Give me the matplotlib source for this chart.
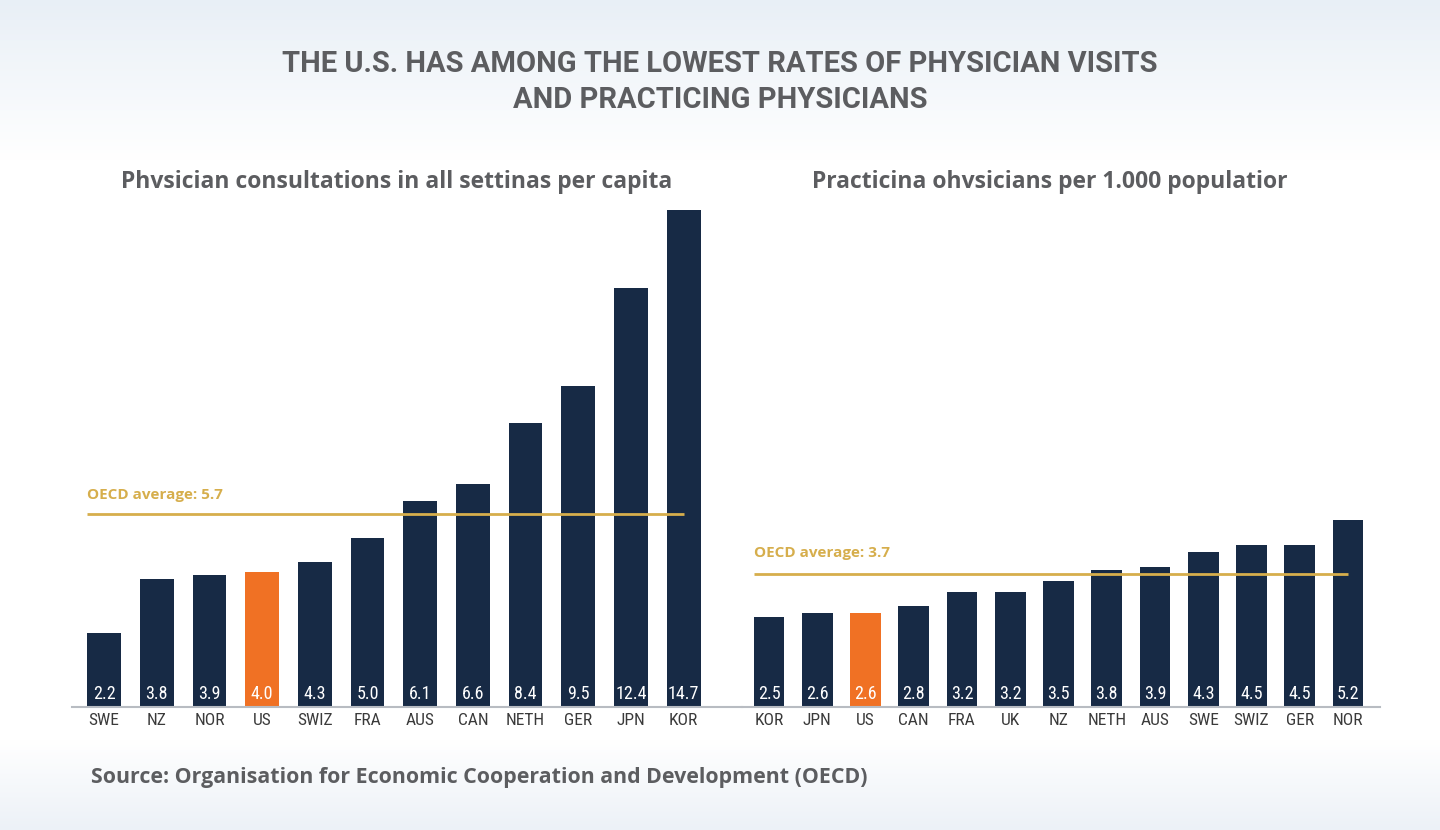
import matplotlib
matplotlib.use("Agg")
import matplotlib.pyplot as plt
import numpy as np

NAVY = "#172a45"; ORANGE = "#f07124"; GOLD = "#d6ae4c"; GREY = "#5c5d60"; TICK = "#3a3a3a"

# data
left_cats = ["SWE", "NZ", "NOR", "US", "SWIZ", "FRA", "AUS", "CAN", "NETH", "GER", "JPN", "KOR"]
left_vals = [2.2, 3.8, 3.9, 4.0, 4.3, 5.0, 6.1, 6.6, 8.4, 9.5, 12.4, 14.7]
left_avg = 5.7
right_cats = ["KOR", "JPN", "US", "CAN", "FRA", "UK", "NZ", "NETH", "AUS", "SWE", "SWIZ", "GER", "NOR"]
right_vals = [2.5, 2.6, 2.6, 2.8, 3.2, 3.2, 3.5, 3.8, 3.9, 4.3, 4.5, 4.5, 5.2]
right_avg = 3.7

W, H = 1440, 830
fig = plt.figure(figsize=(W/100, H/100), dpi=100)

# background gradient
bg = fig.add_axes([0, 0, 1, 1]); bg.axis("off")
col = np.ones((H, 3))
top = np.array([232, 239, 246]) / 255
bot = np.array([236, 241, 247]) / 255
for i in range(H):
    if i < 160:
        t = i / 160
        col[i] = top * (1 - t) + t
    elif i > 740:
        t = (i - 740) / 90
        col[i] = (1 - t) + bot * t
img = np.repeat(col[:, None, :], 4, axis=1)
bg.imshow(img, aspect="auto", extent=[0, 1, 0, 1])
bg.set_xlim(0, 1); bg.set_ylim(0, 1)

COND = ["Liberation Sans Narrow", "Roboto Condensed", "DejaVu Sans"]
HEAD = "Open Sans"

def px(x0, x1, y0, y1):
    return [x0/W, 1 - y1/H, (x1 - x0)/W, (y1 - y0)/H]

def panel(rect, cats, vals, avg, xl, ppu, lab_y):
    ax = fig.add_axes(rect)
    ax.set_facecolor("none")
    x = np.arange(len(cats))
    bw = 0.64
    colors = [ORANGE if c == "US" else NAVY for c in cats]
    ax.bar(x, vals, width=bw, color=colors, zorder=2)
    ax.set_xlim(*xl)
    ax.set_ylim(0, 507 / ppu)
    for s in ("top", "left", "right"):
        ax.spines[s].set_visible(False)
    ax.spines["bottom"].set_color("#b8bcc2"); ax.spines["bottom"].set_linewidth(1.5)
    ax.set_yticks([])
    ax.set_xticks(x)
    ax.set_xticklabels(cats, family=COND, fontsize=12.5, color=TICK)
    ax.tick_params(axis="x", length=0, pad=4)
    for xi, v in zip(x, vals):
        ax.text(xi, 0.12, f"{v:.1f}", ha="center", va="bottom", color="white",
                fontsize=13, family=COND, zorder=3)
    ax.hlines(avg, -bw/2, len(cats) - 1, color=GOLD, lw=2, zorder=4)
    ax.text(-bw/2, avg + lab_y / ppu, f"OECD average: {avg}", color=GOLD, fontsize=11,
            fontweight="bold", family=HEAD, ha="left", va="bottom")
    return ax

panel(px(72, 742, 200, 707), left_cats, left_vals, left_avg,
      ((72 - 104) / 52.7, (742 - 104) / 52.7), 33.8, 12)
panel(px(742, 1380, 200, 707), right_cats, right_vals, right_avg,
      ((742 - 769) / 48.25, (1380 - 769) / 48.25), 36.0, 14)

fig.text(0.5, 1 - 64/H, "THE U.S. HAS AMONG THE LOWEST RATES OF PHYSICIAN VISITS",
         ha="center", va="center", fontsize=21, fontweight="bold", color=GREY, family="Roboto")
fig.text(0.5, 1 - 100/H, "AND PRACTICING PHYSICIANS",
         ha="center", va="center", fontsize=21, fontweight="bold", color=GREY, family="Roboto")
fig.text(397/W, 1 - 182/H, "Phvsician consultations in all settinas per capita",
         ha="center", va="center", fontsize=16.5, fontweight="bold", color=GREY, family=HEAD)
fig.text(1050/W, 1 - 182/H, "Practicina ohvsicians per 1.000 populatior",
         ha="center", va="center", fontsize=16.5, fontweight="bold", color=GREY, family=HEAD)
fig.text(91/W, 1 - 777/H, "Source: Organisation for Economic Cooperation and Development (OECD)",
         ha="left", va="center", fontsize=15.4, fontweight="bold", color=GREY, family=HEAD)

fig.savefig("out.png", dpi=100)
